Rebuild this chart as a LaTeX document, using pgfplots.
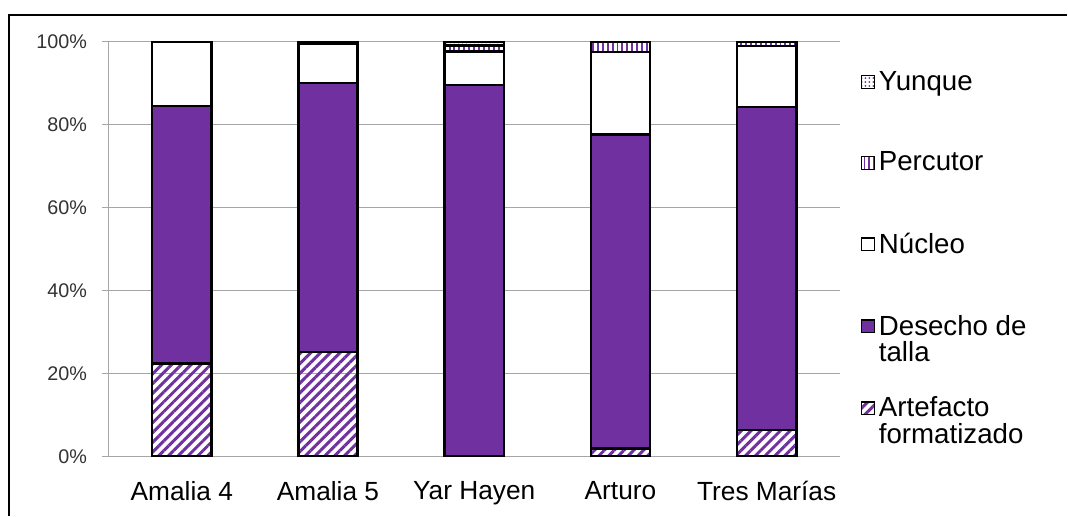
\documentclass[border=0pt]{standalone}
\usepackage{pgfplots}
\pgfplotsset{compat=1.18}
\usepackage{fontspec}
\setmainfont{Liberation Sans}
\usetikzlibrary{patterns.meta}
\definecolor{purp}{HTML}{7030A0}
\definecolor{gridg}{HTML}{A6A6A6}

\begin{document}
\begin{tikzpicture}
    \begin{axis}[
        ybar stacked,
        scale only axis,
        width=370pt, height=210pt,
        bar width=30pt,
        xmin=-0.5, xmax=4.5,
        ymin=0, ymax=100,
        xtick={0,1,2,3,4},
        xticklabels={Amalia 4, Amalia 5, Yar Hayen, Arturo, Tres Marías},
        xtick style={draw=none},
        extra x ticks={-0.5,0.5,1.5,2.5,3.5,4.5},
        extra x tick labels={},
        extra x tick style={grid=none, tick style={draw=gridg, line width=0.8pt}, major tick length=3.5pt, tick align=outside},
        ytick={0,20,40,60,80,100},
        yticklabels={0\%,20\%,40\%,60\%,80\%,100\%},
        ytick style={draw=gridg, line width=0.8pt},
        major tick length=3.5pt,
        tick align=outside,
        ymajorgrids,
        grid style={gridg, line width=0.8pt},
        axis x line*=bottom,
        axis y line*=left,
        axis line style={gridg, line width=0.8pt, -},
        xticklabel style={font=\fontsize{13.3}{15}\selectfont, yshift=-5.5pt},
        yticklabel style={font=\fontsize{10}{12}\selectfont, text=black!80, xshift=-4pt},
        every axis plot/.append style={draw=black, line width=1.3pt},
        reverse legend,
        legend cell align=left,
        % every entry gets two lines, the square sits beside the first one
        legend style={draw=none, fill=none, at={(1,0.5)}, anchor=west, xshift=7.5pt, yshift=-5pt,
            font=\fontsize{14}{13.6}\selectfont, row sep=12.2pt,
            nodes={align=left, inner xsep=2pt}},
        legend image code/.code={\draw[#1, line width=0.6pt] (0pt,3.55pt) rectangle (6.5pt,10.05pt);},
    ]
    \addplot[fill=white, pattern={Lines[angle=45,distance=3.5pt,line width=1.5pt]}, pattern color=purp]
        coordinates {(0,22.4) (1,25.2) (2,0) (3,1.9) (4,6.4)};
    \addplot[fill=purp]
        coordinates {(0,62.1) (1,64.8) (2,89.5) (3,75.7) (4,77.8)};
    \addplot[fill=white]
        coordinates {(0,15.5) (1,9.5) (2,8.1) (3,19.9) (4,14.7)};
    \addplot[pattern={Lines[angle=90,distance=2.5pt,line width=1pt]}, pattern color=purp]
        coordinates {(0,0) (1,0.5) (2,1.4) (3,2.5) (4,1.0)};
    \addplot[pattern={Dots[distance=2pt,radius=0.5pt]}, pattern color=purp]
        coordinates {(0,0) (1,0) (2,1.0) (3,0) (4,0.1)};
    \legend{Artefacto\\formatizado, Desecho de\\talla, Núcleo\\\phantom{t}, Percutor\\\phantom{t}, Yunque\\\phantom{t}}
    \end{axis}
    \draw[line width=1pt] (-50.5pt,-30pt) -- (-50.5pt,223.5pt) -- (485pt,223.5pt);
    \path[use as bounding box] (-55pt,-26pt) rectangle (479pt,231pt);
\end{tikzpicture}
\end{document}
